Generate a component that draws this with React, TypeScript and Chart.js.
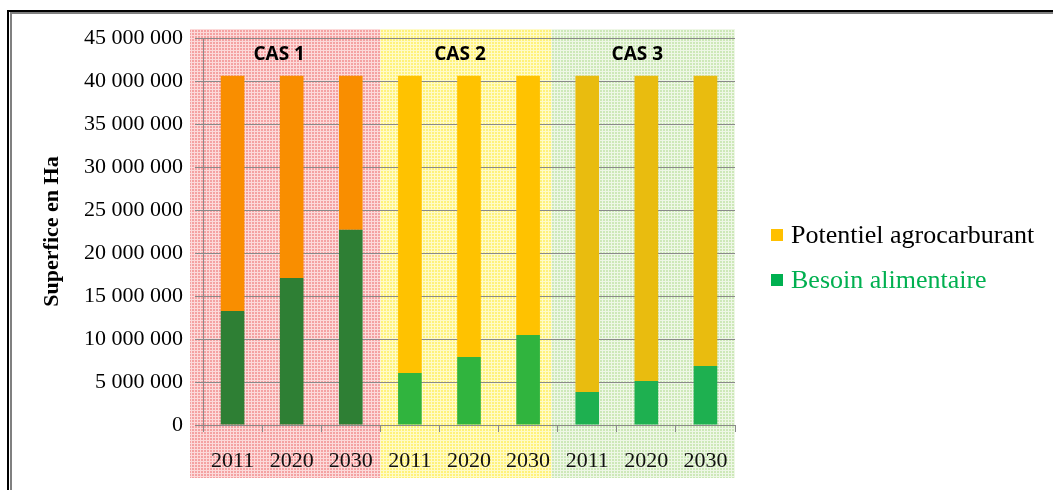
import React, { useEffect, useRef } from 'react';
import { Chart, registerables } from 'chart.js';

Chart.register(...registerables);

// ---------- data ----------
const years = ['2011', '2020', '2030', '2011', '2020', '2030', '2011', '2020', '2030'];
const caseLabels = ['CAS 1', 'CAS 2', 'CAS 3'];
const seriesNames = ['Potentiel agrocarburant', 'Besoin alimentaire'];
const besoinAlimentaire = [13270000, 17100000, 22690000, 6050000, 7910000, 10470000, 3840000, 5120000, 6870000];
const potentielAgrocarburant = [27330000, 23500000, 17910000, 34550000, 32690000, 30130000, 36760000, 35480000, 33730000];
const yMin = 0;
const yMax = 45000000;
const yStep = 5000000;
const yTitle = 'Superfice en Ha';

// ---------- styles ----------
const potentielColors = ['#F98E00', '#F98E00', '#F98E00', '#FFC200', '#FFC200', '#FFC200', '#E9BC0F', '#E9BC0F', '#E9BC0F'];
const besoinColors = ['#2E7F34', '#2E7F34', '#2E7F34', '#30B43E', '#30B43E', '#30B43E', '#1EB050', '#1EB050', '#1EB050'];
const legendSquareColors = ['#FFC000', '#00B050'];
const legendTextColors = ['#000000', '#00B050'];
const regionPatterns = [
  { base: '#F4A2A2', line: '#FCDADA' },
  { base: '#FFF27A', line: '#FFFBC8' },
  { base: '#CDE8B8', line: '#EEF7E6' },
];
const gridColor = '#8A8A8A';
const SERIF = '"Liberation Serif", "Times New Roman", serif';

function makePattern(ctx: CanvasRenderingContext2D, base: string, line: string) {
  const tile = document.createElement('canvas');
  tile.width = 3;
  tile.height = 3;
  const t = tile.getContext('2d')!;
  t.fillStyle = line;
  t.fillRect(0, 0, 3, 3);
  t.fillStyle = base;
  t.fillRect(0, 0, 2, 2);
  return ctx.createPattern(tile, 'repeat')!;
}

const decorPlugin = {
  id: 'decor',
  beforeDraw(chart: any) {
    const ctx: CanvasRenderingContext2D = chart.ctx;
    const { width, height } = chart;
    const area = chart.chartArea;
    const xs = chart.scales.x;
    ctx.save();
    ctx.fillStyle = '#FFFFFF';
    ctx.fillRect(0, 0, width, height);
    // outer frame
    ctx.fillStyle = '#000000';
    ctx.fillRect(7, 10, 2, height - 10);
    ctx.fillRect(7, 10, width - 7, 2);
    ctx.fillStyle = '#808080';
    ctx.fillRect(10, 12, 2, height - 12);
    ctx.fillRect(10, 12, width - 10, 2);
    // case regions
    const half = (xs.getPixelForValue(1) - xs.getPixelForValue(0)) / 2;
    const b1 = xs.getPixelForValue(2) + half;
    const b2 = xs.getPixelForValue(5) + half - 6;
    const edges = [area.left - 13, b1, b2, area.right];
    const top = area.top - 9;
    const bottom = area.bottom + 53;
    for (let i = 0; i < 3; i++) {
      ctx.fillStyle = makePattern(ctx, regionPatterns[i].base, regionPatterns[i].line);
      ctx.fillRect(edges[i], top, edges[i + 1] - edges[i], bottom - top);
    }
    chart.$regionEdges = edges;
    ctx.restore();
  },
  afterDraw(chart: any) {
    const ctx: CanvasRenderingContext2D = chart.ctx;
    const area = chart.chartArea;
    const edges = chart.$regionEdges;
    ctx.save();
    // case labels
    ctx.font = 'bold 19px "Open Sans", "Liberation Sans", sans-serif';
    ctx.fillStyle = '#000000';
    ctx.textAlign = 'center';
    ctx.textBaseline = 'alphabetic';
    for (let i = 0; i < caseLabels.length; i++) {
      const cx = (edges[i] + edges[i + 1]) / 2 - 6;
      ctx.fillText(caseLabels[i], cx, area.top + 22);
    }
    // legend
    ctx.font = `26px ${SERIF}`;
    ctx.textAlign = 'left';
    const lx = area.right + 36;
    const ly = [243, 288];
    for (let i = 0; i < seriesNames.length; i++) {
      ctx.fillStyle = legendSquareColors[i];
      ctx.fillRect(lx, ly[i] - 14, 12, 12);
      ctx.fillStyle = legendTextColors[i];
      ctx.fillText(seriesNames[i], lx + 20, ly[i]);
    }
    ctx.restore();
  },
};

function formatNumber(v: number) {
  return String(Math.round(v)).replace(/\B(?=(\d{3})+(?!\d))/g, ' ');
}

export default function App() {
  const ref = useRef<HTMLCanvasElement>(null);
  useEffect(() => {
    const canvas = ref.current!;
    const chart = new Chart(canvas, {
      type: 'bar',
      data: {
        labels: years,
        datasets: [
          {
            label: seriesNames[1],
            data: besoinAlimentaire,
            backgroundColor: besoinColors,
            borderWidth: 0,
            barPercentage: 0.4,
            categoryPercentage: 1,
          },
          {
            label: seriesNames[0],
            data: potentielAgrocarburant,
            backgroundColor: potentielColors,
            borderWidth: 0,
            barPercentage: 0.4,
            categoryPercentage: 1,
          },
        ],
      },
      options: {
        responsive: false,
        animation: false,
        devicePixelRatio: 1,
        layout: { padding: { left: 0, right: 318, top: 38, bottom: 0 } },
        plugins: {
          legend: { display: false },
          tooltip: { enabled: false },
          title: { display: false },
        },
        scales: {
          x: {
            stacked: true,
            grid: {
              offset: true,
              drawOnChartArea: false,
              drawTicks: true,
              tickLength: 7,
              color: gridColor,
            },
            border: { color: gridColor, width: 1 },
            ticks: {
              color: '#111111',
              font: { family: SERIF, size: 22 },
              padding: 16,
              maxRotation: 0,
              autoSkip: false,
            },
            afterFit: (s: any) => {
              s.height = 65;
            },
          },
          y: {
            stacked: true,
            min: yMin,
            max: yMax,
            ticks: {
              stepSize: yStep,
              padding: 12,
              color: '#000000',
              font: { family: SERIF, size: 22 },
              callback: (v: any) => formatNumber(Number(v)),
            },
            grid: { color: gridColor, tickLength: 8, lineWidth: 1 },
            border: { color: gridColor, width: 1 },
            title: {
              display: true,
              text: yTitle,
              color: '#000000',
              font: { family: SERIF, size: 22, weight: 'bold' },
              padding: { top: 39, bottom: 0 },
            },
            afterFit: (s: any) => {
              s.width = 203;
            },
          },
        },
      } as any,
      plugins: [decorPlugin],
    });
    return () => chart.destroy();
  }, []);
  return (
    <div style={{ position: 'absolute', left: 0, top: 0, width: 1053, height: 490 }}>
      <canvas ref={ref} width={1053} height={490} style={{ display: 'block', width: 1053, height: 490 }} />
    </div>
  );
}
